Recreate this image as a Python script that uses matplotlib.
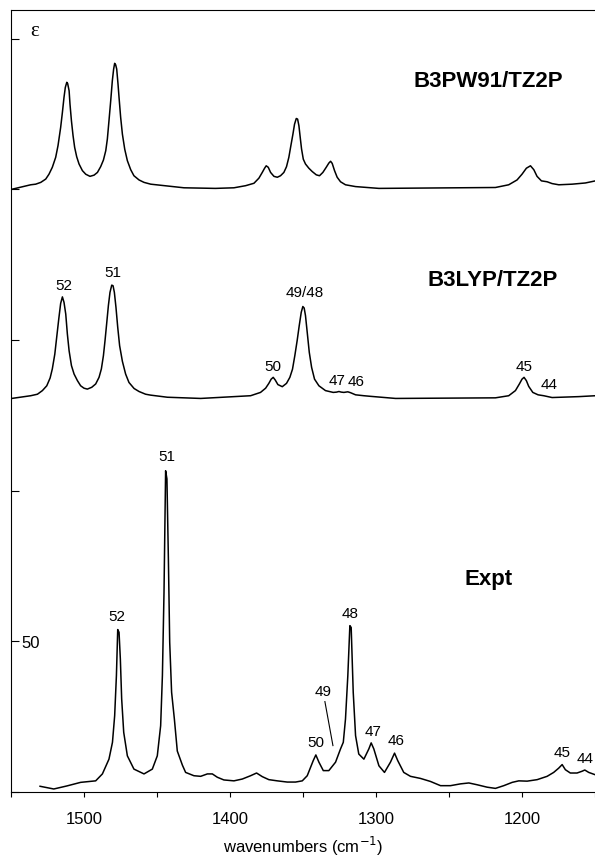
import numpy as np
import matplotlib
matplotlib.use("Agg")
import matplotlib.pyplot as plt

plt.rcParams['font.family'] = ['Liberation Sans', 'DejaVu Sans']

# B3PW91/TZ2P computed spectrum (relative to its own baseline)
pw91_wn = [1549.5, 1536.5, 1533.1, 1529.6, 1526.2, 1524.0, 1521.7, 1519.4, 1517.8, 1516.0,
           1514.8, 1513.7, 1512.8, 1511.8, 1511.2, 1510.2, 1509.6, 1508.6, 1507.5, 1506.4,
           1505.0, 1503.4, 1501.1, 1498.8, 1495.9, 1493.1, 1490.8, 1488.6, 1486.7, 1485.1,
           1484.0, 1482.9, 1481.7, 1480.6, 1479.7, 1479.0, 1478.3, 1477.6, 1476.7, 1476.0,
           1474.9, 1473.7, 1472.1, 1470.3, 1468.0, 1465.8, 1462.3, 1458.9, 1454.3, 1431.5,
           1410.0, 1397.3,
           1389.3, 1383.6, 1380.2, 1377.9, 1376.3, 1375.2, 1373.8, 1372.2, 1369.9, 1367.6,
           1365.4, 1363.1, 1361.3, 1359.7, 1358.3, 1356.9, 1355.8, 1354.6, 1353.7, 1352.8,
           1351.9, 1351.0, 1349.8, 1348.3, 1346.0, 1343.7, 1340.9, 1338.7, 1336.4, 1334.1,
           1332.3, 1331.1, 1330.0, 1328.4, 1326.6, 1324.3, 1320.9, 1314.0, 1298.0,
           1218.2, 1209.1, 1203.4, 1200.0, 1197.0, 1194.2, 1191.9, 1189.7, 1186.7, 1182.8,
           1179.4, 1174.8, 1165.7, 1156.6, 1149.7]
pw91_eps = [0.0, 1.5, 1.7, 2.3, 3.4, 5.0, 7.3, 10.6, 14.5, 20.5,
            25.5, 30.5, 33.8, 35.5, 35.1, 32.7, 28.3, 22.7, 17.8, 13.9,
            10.8, 8.4, 6.2, 5.0, 4.3, 4.7, 5.6, 7.5, 9.7, 12.8,
            16.7, 22.7, 29.4, 36.0, 39.9, 41.8, 41.3, 39.9, 34.9, 30.5,
            23.9, 18.3, 13.3, 9.5, 6.5, 4.5, 3.1, 2.3, 1.7, 0.5,
            0.3, 0.5,
            1.2, 2.0, 3.7, 5.6, 7.0, 7.8, 7.3, 5.6, 4.3, 4.0,
            4.5, 5.6, 7.5, 10.6, 14.5, 18.3, 21.6, 23.5, 23.3, 21.1,
            17.2, 13.4, 10.0, 8.4, 7.0, 5.9, 4.8, 4.5, 5.6, 7.3,
            8.7, 9.3, 8.6, 6.2, 4.0, 2.5, 1.5, 0.9, 0.3,
            0.6, 1.5, 3.1, 5.0, 7.0, 7.8, 6.5, 4.3, 2.8, 2.5,
            1.9, 1.5, 1.7, 2.1, 2.8]

# B3LYP/TZ2P computed spectrum (relative to its own baseline)
lyp_wn = [1549.5, 1536.5, 1531.9, 1528.5, 1525.5, 1523.2, 1521.7, 1520.0, 1518.7, 1517.3,
          1516.0, 1514.8, 1513.7, 1512.5, 1511.4, 1510.2, 1508.6, 1506.8, 1504.5, 1502.3,
          1500.0, 1497.7, 1494.7, 1492.0, 1489.7, 1488.1, 1486.7, 1485.6, 1484.5, 1483.3,
          1482.2, 1481.0, 1480.1, 1479.2, 1478.1, 1476.9, 1475.6, 1473.7, 1471.5, 1469.2,
          1465.7, 1462.3, 1457.8, 1454.4, 1442.9, 1420.1,
          1385.9, 1379.1, 1375.6, 1373.4, 1371.8, 1370.4, 1369.0, 1367.2, 1364.2, 1361.3,
          1359.0, 1357.2, 1355.6, 1354.0, 1352.6, 1351.2, 1350.1, 1349.2, 1348.3, 1347.1,
          1345.7, 1344.1, 1342.1, 1339.1, 1334.6, 1329.3, 1327.0, 1325.4, 1323.8, 1322.0,
          1319.3, 1317.4, 1314.0, 1308.3, 1303.8, 1286.6,
          1218.2, 1209.1, 1204.5, 1201.8, 1200.0, 1198.6, 1197.0, 1195.4, 1192.6, 1189.0,
          1185.1, 1179.4, 1161.2, 1149.7]
lyp_eps = [0.6, 1.5, 2.0, 3.2, 4.8, 7.4, 10.4, 15.3, 20.9, 26.9,
           32.1, 34.3, 32.5, 28.6, 22.0, 16.4, 11.5, 8.7, 6.5, 4.8,
           4.0, 3.7, 4.3, 5.4, 7.6, 10.4, 14.8, 19.8, 25.3, 31.4,
           35.8, 38.2, 38.0, 35.8, 30.8, 24.2, 18.1, 12.9, 8.7, 5.9,
           3.9, 2.9, 2.0, 1.7, 1.0, 0.6,
           1.5, 2.6, 4.0, 5.6, 7.0, 7.6, 6.7, 5.2, 4.5, 5.6,
           7.6, 10.3, 14.8, 19.8, 24.7, 29.2, 31.1, 30.6, 28.1, 22.5,
           15.9, 10.9, 7.0, 4.8, 3.2, 2.6, 2.7, 2.9, 2.7, 2.6,
           2.8, 2.5, 1.8, 1.5, 1.3, 0.6,
           0.8, 1.5, 3.2, 5.4, 7.0, 7.6, 6.5, 4.6, 2.6, 1.8,
           1.5, 0.9, 1.2, 1.5]

# experimental spectrum
expt_wn = [1530.1, 1520.7, 1511.8, 1502.3, 1492.0, 1487.4, 1482.9, 1480.5, 1479.0, 1477.8,
           1476.9, 1476.0, 1475.1, 1474.2, 1472.8, 1470.3, 1465.8, 1458.9, 1453.2, 1449.8,
           1447.5, 1446.3, 1445.2, 1444.6, 1444.1, 1443.2, 1442.2, 1441.3, 1440.0, 1438.1,
           1436.1, 1432.6, 1430.4, 1424.7, 1420.1, 1415.5, 1412.1, 1408.7, 1404.2, 1397.3,
           1391.6, 1385.9, 1381.8, 1377.9, 1373.4, 1367.6, 1360.8, 1355.1, 1350.5, 1347.1,
           1343.0, 1341.2, 1339.1, 1336.1, 1332.3, 1327.7, 1324.3, 1322.4, 1320.9, 1319.3,
           1317.9, 1317.0, 1315.6, 1314.0, 1311.8, 1308.3, 1304.9, 1303.3, 1301.5, 1298.0,
           1294.2, 1290.1, 1287.3, 1285.1, 1281.0, 1276.4, 1269.5, 1262.7, 1255.8, 1249.0,
           1242.1, 1236.4, 1230.7, 1223.9, 1218.2, 1212.5, 1206.7, 1202.2, 1196.5, 1189.6,
           1182.8, 1178.3, 1174.9, 1172.5, 1170.3, 1166.9, 1162.3, 1158.8, 1157.0, 1154.3,
           1149.7]
expt_eps = [1.9, 1.0, 2.0, 3.2, 3.7, 6.0, 10.9, 16.5, 25.3, 38.6,
            53.9, 53.0, 44.1, 30.9, 19.8, 12.0, 7.6, 6.0, 7.6, 12.0,
            22.0, 38.6, 66.3, 88.4, 106.6, 103.9, 77.3, 49.7, 33.1, 24.2,
            13.6, 8.9, 6.5, 5.4, 5.2, 6.0, 6.0, 4.9, 4.0, 3.7,
            4.3, 5.4, 6.3, 5.1, 4.1, 3.7, 3.3, 3.3, 3.7, 5.4,
            10.4, 12.3, 9.9, 7.1, 7.1, 9.9, 14.3, 16.5, 24.2, 38.6,
            55.2, 54.6, 33.1, 18.7, 12.6, 10.9, 14.3, 16.3, 14.3, 8.7,
            6.5, 9.9, 12.9, 10.4, 6.5, 5.2, 4.5, 3.5, 2.1, 2.1,
            2.7, 3.0, 2.4, 1.6, 1.2, 2.1, 3.2, 3.7, 3.6, 4.1,
            5.2, 6.5, 7.9, 9.1, 7.4, 6.3, 6.3, 6.9, 7.3, 6.5,
            5.7]

# vertical offsets of the computed spectra
pw91_offset = 200
lyp_offset = 130

# mode labels: text, wavenumber, epsilon
lyp_labels = ['52', '51', '50', '49/48', '47', '46', '45', '44']
lyp_label_wn = [1514.1, 1480.5, 1370.4, 1348.9, 1327.0, 1313.3, 1198.8, 1181.7]
lyp_label_eps = [168.2, 172.4, 141.4, 165.8, 136.7, 136.5, 141.4, 135.4]

expt_labels = ['52', '51', '50', '49', '48', '47', '46', '45', '44']
expt_label_wn = [1477.8, 1443.6, 1341.4, 1336.1, 1317.4, 1301.9, 1286.2, 1172.5, 1156.6]
expt_label_eps = [58.5, 111.6, 16.5, 33.6, 59.4, 20.3, 17.1, 13.4, 11.2]

fig = plt.figure(figsize=(5.95, 8.62), dpi=100)
ax = fig.add_axes([11 / 595, 1 - 793 / 862, 1 - 11 / 595, (793 - 11) / 862])

ax.plot(pw91_wn, np.array(pw91_eps) + pw91_offset, color='black', lw=1.1)
ax.plot(lyp_wn, np.array(lyp_eps) + lyp_offset, color='black', lw=1.1)
ax.plot(expt_wn, expt_eps, color='black', lw=1.1)

for t, xw, ye in zip(lyp_labels, lyp_label_wn, lyp_label_eps):
    ax.text(xw, ye, t, fontsize=11, ha='center', va='center')
for t, xw, ye in zip(expt_labels, expt_label_wn, expt_label_eps):
    ax.text(xw, ye, t, fontsize=11, ha='center', va='center')
# pointer for the 49 shoulder
ax.plot([1335.0, 1329.5], [30.0, 15.4], color='black', lw=0.8)

ax.text(1222.8, 236.0, 'B3PW91/TZ2P', fontsize=16, fontweight='bold', ha='center', va='center')
ax.text(1220.4, 170.2, 'B3LYP/TZ2P', fontsize=16, fontweight='bold', ha='center', va='center')
ax.text(1222.8, 70.7, 'Expt', fontsize=16, fontweight='bold', ha='center', va='center')
ax.text(1533.5, 252.6, 'ε', fontsize=15, family=['Liberation Serif', 'DejaVu Serif'],
        ha='center', va='center')

ax.set_xlim(1550, 1150)
ax.set_ylim(0, 259.5)

ax.set_xticks([1550, 1500, 1450, 1400, 1350, 1300, 1250, 1200, 1150])
ax.set_xticklabels(['', '1500', '', '1400', '', '1300', '', '1200', ''])
ax.tick_params(axis='x', direction='out', length=3.6, width=0.8, labelsize=12, pad=10)

ax.set_yticks([0, 50, 100, 150, 200, 250])
ax.set_yticklabels(['', '50', '', '', '', ''])
ax.tick_params(axis='y', direction='in', length=6, width=0.8, labelsize=12, pad=-7.5)
for lab in ax.get_yticklabels():
    lab.set_horizontalalignment('left')

ax.spines['right'].set_visible(False)
for s in ['left', 'top', 'bottom']:
    ax.spines[s].set_linewidth(0.8)

ax.set_xlabel('wavenumbers (cm$^{-1}$)', fontsize=12, labelpad=6)

fig.savefig('out.png', dpi=100)
